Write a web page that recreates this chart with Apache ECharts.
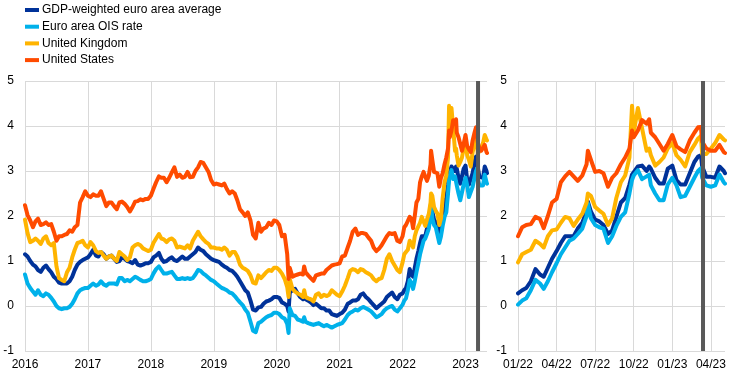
<!DOCTYPE html>
<html>
<head>
<meta charset="utf-8">
<script src="https://cdn.jsdelivr.net/npm/echarts@6/dist/echarts.min.js"></script>
<style>
html,body{margin:0;padding:0;background:#fff;}
#chart{width:739px;height:380px;}
</style>
</head>
<body>
<div id="chart"></div>
<script>
// ---- DATA ----
const seriesNames = ['GDP-weighted euro area average', 'Euro area OIS rate', 'United Kingdom', 'United States'];

const dates = [
'2016-01-01','2016-01-16','2016-02-01','2016-02-16','2016-03-01','2016-03-16','2016-04-01','2016-04-16','2016-05-01','2016-05-16','2016-06-01','2016-06-16','2016-07-01','2016-07-16','2016-08-01','2016-08-16','2016-09-01','2016-09-16','2016-10-01','2016-10-16','2016-11-01','2016-11-16','2016-12-01','2016-12-16',
'2017-01-01','2017-01-16','2017-02-01','2017-02-16','2017-03-01','2017-03-16','2017-04-01','2017-04-16','2017-05-01','2017-05-16','2017-06-01','2017-06-16','2017-07-01','2017-07-16','2017-08-01','2017-08-16','2017-09-01','2017-09-16','2017-10-01','2017-10-16','2017-11-01','2017-11-16','2017-12-01','2017-12-16',
'2018-01-01','2018-01-16','2018-02-01','2018-02-16','2018-03-01','2018-03-16','2018-04-01','2018-04-16','2018-05-01','2018-05-16','2018-06-01','2018-06-16','2018-07-01','2018-07-16','2018-08-01','2018-08-16','2018-09-01','2018-09-16','2018-10-01','2018-10-16','2018-11-01','2018-11-16','2018-12-01','2018-12-16',
'2019-01-01','2019-01-16','2019-02-01','2019-02-16','2019-03-01','2019-03-16','2019-04-01','2019-04-16','2019-05-01','2019-05-16','2019-06-01','2019-06-16','2019-07-01','2019-07-16','2019-08-01','2019-08-16','2019-09-01','2019-09-16','2019-10-01','2019-10-16','2019-11-01','2019-11-16','2019-12-01','2019-12-16',
'2020-01-01','2020-01-16','2020-02-01','2020-02-16','2020-03-01','2020-03-09','2020-03-16','2020-04-01','2020-04-16','2020-05-01','2020-05-16','2020-06-01','2020-06-08','2020-06-16','2020-07-01','2020-07-16','2020-08-01','2020-08-16','2020-09-01','2020-09-16','2020-10-01','2020-10-16','2020-11-01','2020-11-16','2020-12-01','2020-12-16',
'2021-01-01','2021-01-16','2021-02-01','2021-02-16','2021-03-01','2021-03-16','2021-04-01','2021-04-16','2021-05-01','2021-05-16','2021-06-01','2021-06-16','2021-07-01','2021-07-16','2021-08-01','2021-08-16','2021-09-01','2021-09-16','2021-10-01','2021-10-16','2021-11-01','2021-11-16','2021-12-01','2021-12-16',
'2022-01-01','2022-01-11','2022-01-21','2022-02-01','2022-02-11','2022-02-21','2022-03-01','2022-03-11','2022-03-21','2022-04-01','2022-04-11','2022-04-21','2022-05-01','2022-05-11','2022-05-21','2022-06-01','2022-06-11','2022-06-14','2022-06-21','2022-07-01','2022-07-11','2022-07-21','2022-08-01','2022-08-11','2022-08-21','2022-09-01','2022-09-11','2022-09-21','2022-09-27','2022-10-01','2022-10-11','2022-10-21','2022-11-01','2022-11-07','2022-11-11','2022-11-21','2022-12-01','2022-12-11','2022-12-21',
'2023-01-01','2023-01-11','2023-01-21','2023-02-01','2023-02-11','2023-02-21','2023-03-01','2023-03-08','2023-03-11','2023-03-21','2023-04-01','2023-04-11','2023-04-21','2023-05-01','2023-05-04'
];

const gdpWeighted = [
1.15,1.1,1.0,0.92,0.88,0.8,0.76,0.85,0.9,0.82,0.75,0.65,0.6,0.52,0.5,0.5,0.5,0.55,0.65,0.8,0.92,0.98,1.02,1.05,
1.08,1.15,1.25,1.12,1.1,1.2,1.15,1.05,1.1,1.12,1.05,0.98,1.0,1.08,1.05,1.0,0.98,0.95,1.02,0.92,0.9,0.92,0.95,0.95,
0.98,1.08,1.12,1.18,1.05,0.98,1.0,1.05,1.08,1.02,1.0,1.05,1.1,1.05,1.05,1.1,1.15,1.2,1.3,1.25,1.22,1.15,1.1,1.05,
1.02,1.0,0.98,0.92,0.88,0.85,0.8,0.78,0.72,0.65,0.55,0.45,0.35,0.3,0.12,-0.08,-0.1,-0.03,-0.02,0.05,0.1,0.12,0.15,0.2,
0.2,0.18,0.08,0.05,0.0,-0.12,0.3,0.35,0.38,0.28,0.2,0.15,0.25,0.15,0.12,0.08,0.02,0.05,0.0,-0.05,-0.05,-0.1,-0.1,-0.18,-0.2,-0.22,
-0.18,-0.15,-0.08,0.05,0.08,0.12,0.12,0.15,0.25,0.28,0.2,0.15,0.08,0.02,-0.05,0.0,0.05,0.1,0.2,0.25,0.3,0.2,0.15,0.25,
0.28,0.35,0.4,0.55,0.82,0.7,0.65,0.85,1.05,1.22,1.4,1.55,1.55,1.55,1.72,1.85,2.1,2.32,2.1,1.92,1.88,1.8,1.6,1.68,1.98,2.3,2.4,2.7,2.92,2.95,3.1,3.12,3.0,3.1,3.05,2.85,2.72,2.72,3.05,
3.12,2.8,2.7,2.7,2.95,3.2,3.32,3.35,3.1,2.87,2.87,2.85,3.1,3.0,2.95
];

const euroOis = [
0.7,0.5,0.4,0.32,0.25,0.35,0.25,0.22,0.28,0.25,0.18,0.1,0.0,-0.05,-0.07,-0.05,-0.05,-0.02,0.05,0.15,0.28,0.35,0.38,0.4,
0.4,0.45,0.5,0.45,0.48,0.55,0.48,0.45,0.5,0.5,0.5,0.48,0.62,0.62,0.55,0.58,0.55,0.6,0.65,0.62,0.58,0.55,0.55,0.57,
0.6,0.72,0.82,0.88,0.8,0.72,0.72,0.74,0.76,0.68,0.6,0.6,0.62,0.6,0.62,0.6,0.62,0.7,0.8,0.78,0.72,0.68,0.63,0.58,
0.55,0.5,0.45,0.4,0.38,0.35,0.3,0.28,0.22,0.15,0.08,0.02,-0.08,-0.15,-0.35,-0.55,-0.58,-0.38,-0.35,-0.3,-0.25,-0.22,-0.2,-0.15,
-0.15,-0.18,-0.25,-0.28,-0.4,-0.6,-0.05,-0.2,-0.22,-0.3,-0.32,-0.35,-0.25,-0.35,-0.38,-0.4,-0.42,-0.4,-0.38,-0.42,-0.45,-0.42,-0.45,-0.48,-0.45,-0.42,
-0.4,-0.38,-0.3,-0.2,-0.15,-0.12,-0.08,-0.1,-0.05,-0.02,-0.05,-0.08,-0.12,-0.18,-0.25,-0.22,-0.18,-0.1,-0.05,-0.02,0.0,-0.08,-0.12,-0.05,
0.03,0.12,0.17,0.35,0.58,0.5,0.38,0.55,0.75,0.95,1.15,1.3,1.45,1.5,1.6,1.72,2.0,2.28,1.95,1.8,1.75,1.72,1.4,1.55,1.78,1.98,2.08,2.5,2.8,2.9,3.02,2.82,2.88,2.92,2.68,2.5,2.35,2.35,2.7,
2.85,2.68,2.42,2.45,2.65,2.85,3.0,3.06,2.85,2.68,2.65,2.68,2.92,2.75,2.72
];

const unitedKingdom = [
1.92,1.62,1.42,1.45,1.5,1.45,1.38,1.5,1.55,1.4,1.35,1.4,0.88,0.62,0.58,0.55,0.75,0.85,1.08,1.25,1.4,1.42,1.45,1.35,
1.3,1.42,1.35,1.22,1.18,1.2,1.12,1.05,1.1,1.12,1.05,1.0,1.2,1.15,1.1,1.02,1.08,1.3,1.35,1.38,1.35,1.28,1.25,1.22,
1.25,1.4,1.5,1.6,1.5,1.48,1.42,1.48,1.5,1.45,1.3,1.32,1.3,1.28,1.35,1.28,1.45,1.55,1.65,1.55,1.48,1.42,1.38,1.3,
1.3,1.28,1.28,1.25,1.3,1.25,1.12,1.2,1.2,1.1,0.92,0.85,0.82,0.78,0.68,0.52,0.5,0.68,0.62,0.68,0.75,0.8,0.78,0.85,
0.85,0.8,0.72,0.6,0.42,0.2,0.6,0.38,0.32,0.28,0.25,0.2,0.35,0.2,0.17,0.15,0.1,0.25,0.28,0.2,0.25,0.22,0.25,0.35,0.3,0.25,
0.22,0.32,0.45,0.62,0.78,0.82,0.8,0.75,0.82,0.8,0.75,0.72,0.68,0.6,0.55,0.6,0.62,0.8,1.05,1.15,1.0,0.9,0.8,0.75,
0.97,1.15,1.2,1.25,1.45,1.38,1.3,1.55,1.68,1.7,1.85,1.98,1.95,1.78,1.92,2.05,2.3,2.5,2.45,2.2,2.12,2.05,1.8,1.95,2.4,2.75,2.9,3.3,4.45,3.85,4.4,3.95,3.45,3.5,3.35,3.12,3.2,3.3,3.5,
3.62,3.35,3.25,3.1,3.42,3.58,3.72,3.78,3.38,3.38,3.5,3.62,3.8,3.7,3.68
];

const unitedStates = [
2.24,2.02,1.9,1.75,1.88,1.94,1.8,1.82,1.86,1.8,1.82,1.65,1.45,1.55,1.55,1.58,1.6,1.68,1.65,1.75,1.8,2.3,2.42,2.55,
2.45,2.42,2.48,2.45,2.45,2.55,2.38,2.22,2.3,2.3,2.22,2.15,2.3,2.32,2.27,2.2,2.1,2.2,2.32,2.33,2.37,2.35,2.38,2.38,
2.45,2.6,2.75,2.88,2.85,2.85,2.75,2.85,2.97,3.08,2.87,2.92,2.85,2.87,2.98,2.86,2.87,3.0,3.08,3.2,3.18,3.08,2.98,2.8,
2.7,2.72,2.7,2.68,2.72,2.6,2.5,2.55,2.5,2.35,2.15,2.08,2.0,2.08,1.9,1.58,1.5,1.85,1.65,1.72,1.75,1.85,1.8,1.9,
1.88,1.8,1.55,1.58,1.15,0.6,0.85,0.65,0.68,0.7,0.72,0.7,0.88,0.75,0.68,0.62,0.56,0.68,0.7,0.72,0.72,0.8,0.85,0.9,0.92,0.93,
0.95,1.1,1.12,1.3,1.45,1.65,1.72,1.58,1.62,1.62,1.6,1.52,1.45,1.3,1.22,1.27,1.35,1.45,1.55,1.62,1.6,1.62,1.45,1.42,
1.55,1.75,1.8,1.82,1.98,1.93,1.73,2.0,2.3,2.38,2.75,2.88,2.98,2.88,2.78,2.9,3.15,3.45,3.25,2.98,3.0,2.95,2.65,2.85,2.95,3.15,3.3,3.5,3.9,3.75,3.9,4.13,4.05,4.15,3.85,3.75,3.6,3.45,3.6,
3.8,3.55,3.48,3.42,3.68,3.85,3.97,3.98,3.65,3.5,3.45,3.45,3.58,3.42,3.4
];

const eventDate = '2023-03-13';
const fullStart = '2016-01-01';
const zoomStart = '2022-01-01';
const endDate = '2023-05-04';

const colors = ['#003299', '#00B1EA', '#FFB400', '#FF4B00'];
const valuesList = [gdpWeighted, euroOis, unitedKingdom, unitedStates];

// ---- helpers ----
function monthIndex(s) {            // months since 2022-01-01
  const p = s.split('-').map(Number);
  const dim = new Date(Date.UTC(p[0], p[1], 0)).getUTCDate();
  return (p[0] - 2022) * 12 + (p[1] - 1) + (p[2] - 1) / dim;
}
const xs = dates.map(monthIndex);
const xMinFull = monthIndex(fullStart);
const xMinZoom = monthIndex(zoomStart);
const xMax = monthIndex(endDate);
const xEvent = monthIndex(eventDate);

const FONT = "'Liberation Sans', Arial, sans-serif";
const gridColor = '#d9d9d9';

function pairs(vals, from) {
  const out = [];
  const n = Math.min(xs.length, vals.length);
  for (let i = 0; i < n; i++) if (xs[i] >= from) out.push([xs[i], vals[i]]);
  return out;
}

function yAxis(idx) {
  return {
    type: 'value', gridIndex: idx, min: -1, max: 5, interval: 1,
    axisLine: {show: false}, axisTick: {show: false},
    axisLabel: {color: '#000', fontSize: 12, fontFamily: FONT, margin: 11},
    splitLine: {show: true, lineStyle: {color: gridColor, width: 1}}
  };
}

const series = [];
[0, 1].forEach(function (g) {
  valuesList.forEach(function (vals, k) {
    series.push({
      name: seriesNames[k], type: 'line', xAxisIndex: g, yAxisIndex: g,
      data: pairs(vals, g === 0 ? xMinFull : xMinZoom),
      showSymbol: false, symbol: 'none', silent: true,
      lineStyle: {color: colors[k], width: 4, join: 'round', cap: 'round'},
      itemStyle: {color: colors[k]}, z: 2 + k
    });
  });
  series.push({
    type: 'line', xAxisIndex: g, yAxisIndex: g, silent: true,
    data: [[xEvent, -1], [xEvent, 5]], showSymbol: false, symbol: 'none',
    lineStyle: {color: '#595959', width: 4}, z: 10
  });
});

const chart = echarts.init(document.getElementById('chart'), null, {renderer: 'canvas'});
chart.setOption({
  animation: false,
  backgroundColor: '#fff',
  legend: {
    orient: 'vertical', left: 25, top: 4, padding: 0, itemWidth: 14, itemHeight: 4, itemGap: 4.7,
    icon: 'rect', selectedMode: false,
    textStyle: {color: '#000', fontSize: 12, fontFamily: FONT, lineHeight: 12, padding: [0, 0, 0, -2]},
    data: seriesNames.map(function (n, k) { return {name: n, itemStyle: {color: colors[k]}}; })
  },
  grid: [
    {left: 25, right: 252, top: 81, bottom: 29},
    {left: 518, right: 14, top: 81, bottom: 29}
  ],
  xAxis: [
    {
      type: 'value', gridIndex: 0, min: xMinFull, max: xMax, interval: 12,
      axisLine: {show: false}, axisTick: {show: false},
      axisLabel: {color: '#000', fontSize: 12, fontFamily: FONT, margin: 8,
        formatter: function (v) { return (Math.abs(v % 12) < 1e-9) ? String(2022 + v / 12) : ''; }},
      splitLine: {show: true, showMaxLine: false, lineStyle: {color: gridColor, width: 1}}
    },
    {
      type: 'value', gridIndex: 1, min: xMinZoom, max: xMax, interval: 3,
      axisLine: {show: false}, axisTick: {show: false},
      axisLabel: {color: '#000', fontSize: 12, fontFamily: FONT, margin: 8,
        formatter: function (v) {
          if (Math.abs(v % 3) > 1e-9) return '';
          const y = 22 + Math.floor(v / 12);
          const m = (v % 12) + 1;
          return (m < 10 ? '0' + m : '' + m) + '/' + y;
        }},
      splitLine: {show: true, showMaxLine: false, lineStyle: {color: gridColor, width: 1}}
    }
  ],
  yAxis: [yAxis(0), yAxis(1)],
  series: series
});
</script>
</body>
</html>
